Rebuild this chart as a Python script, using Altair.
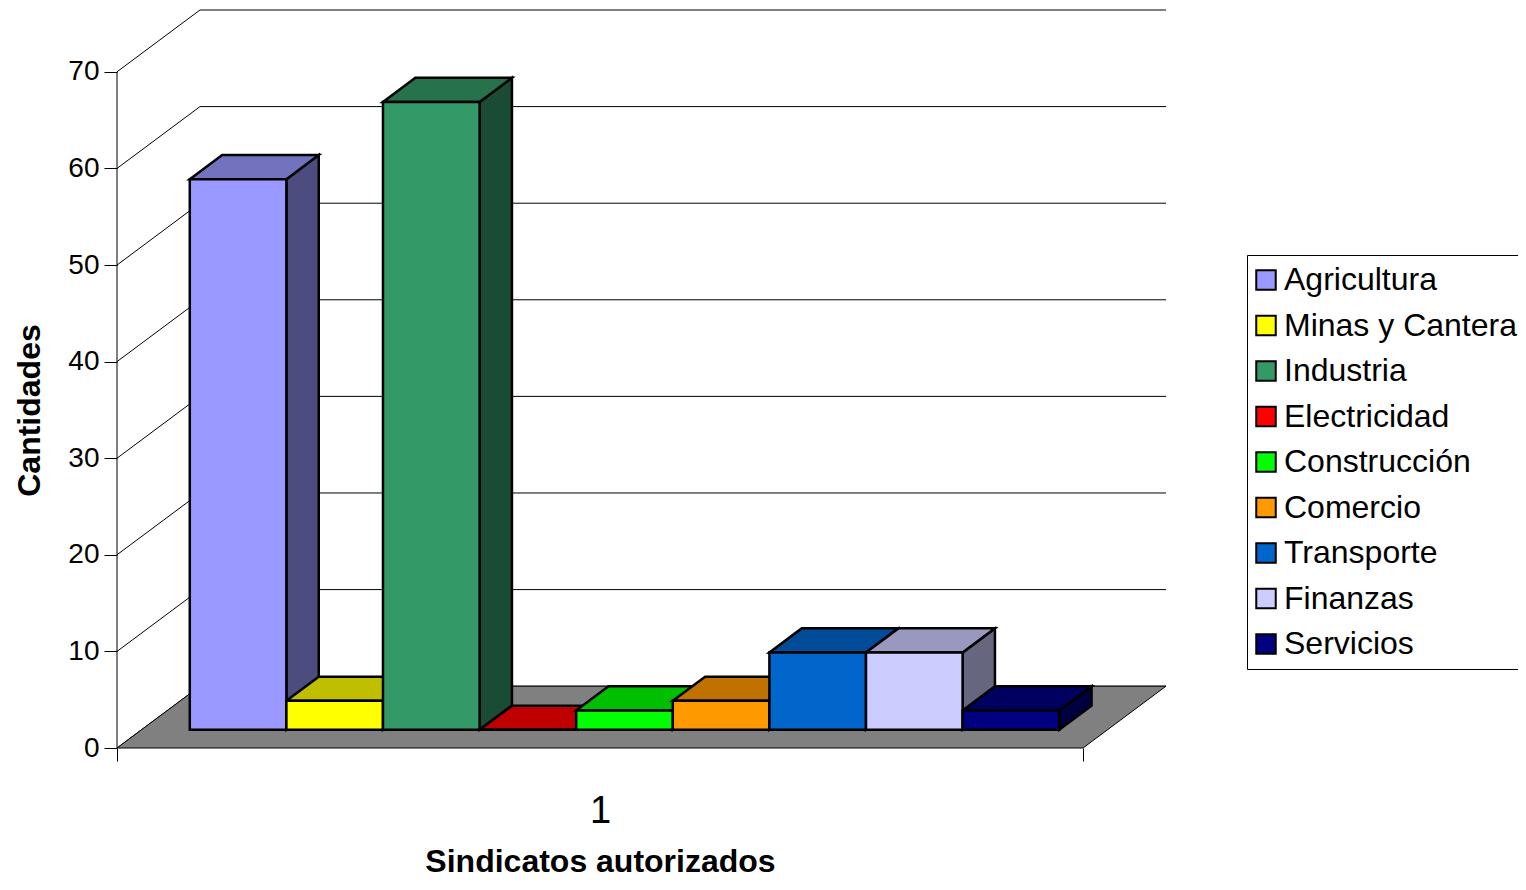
import altair as alt
import pandas as pd

# ---------------- data ----------------
categories = ["Agricultura", "Minas y Cantera", "Industria", "Electricidad",
              "Construcción", "Comercio", "Transporte", "Finanzas", "Servicios"]
values = [57, 3, 65, 0, 2, 3, 8, 8, 2]
colors = ["#9999FF", "#FFFF00", "#339966", "#FF0000", "#00FF00",
          "#FF9900", "#0066CC", "#CCCCFF", "#000080"]
y_ticks = [0, 10, 20, 30, 40, 50, 60, 70]
x_label = "1"
y_title = "Cantidades"
x_title = "Sindicatos autorizados"

# ---------------- 3D style constants ----------------
DX = 0.859    # full depth offset, in category units
DY = 6.4      # full depth offset, in value units
F0 = 0.295    # bar front depth fraction
F1 = 0.685    # bar back depth fraction
N = len(categories)
SPAN = N + 1
YMAX = max(y_ticks)


def shade(hexcol, k):
    h = hexcol.lstrip("#")
    r, g, b = (int(h[i:i + 2], 16) for i in (0, 2, 4))
    return "#%02X%02X%02X" % (int(r * k), int(g * k), int(b * k))


front_rows, top_rows, side_rows = [], [], []
dd_x = (F1 - F0) * DX
for i, (c, v, col) in enumerate(zip(categories, values, colors)):
    a = 0.5 + i + F0 * DX
    front_rows.append(dict(cat=c, x=a, x2=a + 1, y=F0 * DY, y2=v + F0 * DY))
    top_rows.append(dict(cat=c, col=shade(col, 0.75), y=v + F0 * DY, x=a, x2=a + 1))
    top_rows.append(dict(cat=c, col=shade(col, 0.75), y=v + F1 * DY, x=a + dd_x, x2=a + 1 + dd_x))
    side_rows.append(dict(cat=c, col=shade(col, 0.5), x=a + 1, y=F0 * DY, y2=v + F0 * DY))
    side_rows.append(dict(cat=c, col=shade(col, 0.5), x=a + 1 + dd_x, y=F1 * DY, y2=v + F1 * DY))

front_df = pd.DataFrame(front_rows)
top_df = pd.DataFrame(top_rows)
side_df = pd.DataFrame(side_rows)

grid_rows = []
for t in y_ticks:
    grid_rows += [dict(tick=t, idx=0, x=0, y=t),
                  dict(tick=t, idx=1, x=DX, y=t + DY),
                  dict(tick=t, idx=2, x=SPAN + DX, y=t + DY)]
grid_df = pd.DataFrame(grid_rows)

floor_df = pd.DataFrame([dict(y=0, x=0, x2=SPAN), dict(y=DY, x=DX, x2=SPAN + DX)])
yrule_df = pd.DataFrame([dict(x=0, y=min(y_ticks), y2=YMAX)])

# ---------------- scales / axes ----------------
xs = alt.Scale(domain=[0, SPAN + DX], nice=False, zero=False)
ys = alt.Scale(domain=[0, YMAX + DY], nice=False, zero=False)

X_AX = alt.Axis(values=[0, SPAN / 2, SPAN], domain=False, grid=False,
                tickSize=13, tickColor="black", tickWidth=1,
                tickOpacity={"condition": {"test": f"datum.value == {SPAN / 2}", "value": 0}, "value": 1},
                labelExpr=f"datum.value == {SPAN / 2} ? '{x_label}' : ''",
                labelFontSize=38, labelColor="black", labelBaseline="alphabetic",
                labelPadding=61, labelFlush=False, labelOverlap=False,
                title=x_title, titleFontSize=32, titleFontWeight="bold", titleColor="black",
                titleX=483, titleY=123, titleAlign="center", titleBaseline="alphabetic")
Y_AX = alt.Axis(values=y_ticks, domain=False, grid=False,
                tickSize=13, tickColor="black", tickWidth=1,
                labelFontSize=28, labelColor="black", labelPadding=5,
                title=y_title, titleFontSize=32, titleFontWeight="bold", titleColor="black",
                titleX=-78, titleY=400, titleAngle=270, titleAlign="center",
                titleBaseline="alphabetic")


def X(f):
    return alt.X(f, scale=xs, axis=X_AX)


def Y(f):
    return alt.Y(f, scale=ys, axis=Y_AX)


grid = alt.Chart(grid_df).mark_line(color="black", strokeWidth=1, opacity=1).encode(
    x=X("x:Q"), y=Y("y:Q"), detail="tick:N", order="idx:Q")

floor = alt.Chart(floor_df).mark_area(orient="horizontal", fill="#808080", stroke="black",
                                      strokeWidth=1, opacity=1).encode(
    y=Y("y:Q"), x=X("x:Q"), x2="x2:Q")

yrule = alt.Chart(yrule_df).mark_rule(color="black", strokeWidth=1).encode(
    x=X("x:Q"), y=Y("y:Q"), y2="y2:Q")

sides = alt.Chart(side_df).mark_area(orient="vertical", stroke="black", strokeWidth=2.5,
                                     strokeJoin="miter", opacity=1).encode(
    x=X("x:Q"), y=Y("y:Q"), y2="y2:Q",
    fill=alt.Fill("col:N", scale=None), detail="cat:N")

tops = alt.Chart(top_df).mark_area(orient="horizontal", stroke="black", strokeWidth=2.5,
                                   strokeJoin="miter", opacity=1).encode(
    y=Y("y:Q"), x=X("x:Q"), x2="x2:Q",
    fill=alt.Fill("col:N", scale=None), detail="cat:N")

fronts = alt.Chart(front_df).mark_rect(stroke="black", strokeWidth=2.5, strokeJoin="miter",
                                       opacity=1).encode(
    x=X("x:Q"), x2="x2:Q", y=Y("y:Q"), y2="y2:Q",
    color=alt.Color("cat:N", sort=categories,
                    scale=alt.Scale(domain=categories, range=colors),
                    legend=alt.Legend(title=None, orient="none", legendX=1130, legendY=245,
                                      symbolType="square", symbolSize=380, symbolOffset=-6,
                                      symbolStrokeColor="black", symbolStrokeWidth=2,
                                      labelFontSize=32, labelLimit=600, labelColor="black",
                                      labelOffset=2, rowPadding=13.5, padding=9,
                                      strokeColor="black", fillColor="white")))

chart = alt.layer(grid, floor, yrule, sides, tops, fronts).properties(
    width=1049, height=738,
    autosize=alt.AutoSizeParams(type="none"),
    padding={"left": 109, "top": 2, "right": 352, "bottom": 134},
).configure(font="Liberation Sans").configure_view(stroke=None).configure_axis(
    labelFont="Liberation Sans", titleFont="Liberation Sans").configure_legend(
    labelFont="Liberation Sans")

chart.save("out.html", embed_options={"renderer": "svg", "actions": False})
